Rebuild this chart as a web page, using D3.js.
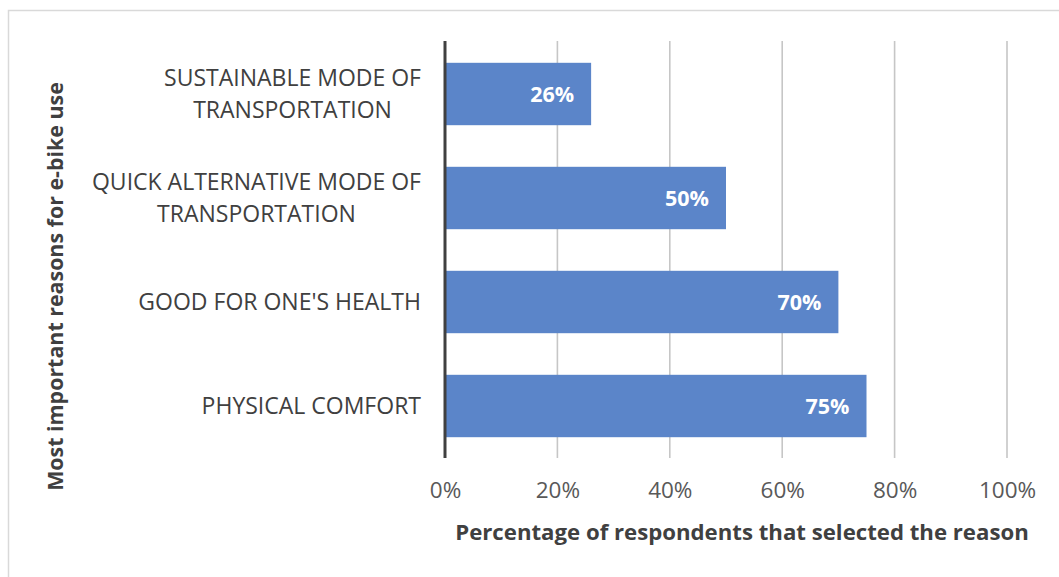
<!DOCTYPE html>
<html><head><meta charset="utf-8">
<script src="https://cdn.jsdelivr.net/npm/d3@7"></script>
<style>body{margin:0;background:#fff}text{font-family:"Open Sans",sans-serif}</style>
</head><body>
<svg id="c" width="1059" height="577"></svg>
<script>
// Data
const categories = [
  ["SUSTAINABLE MODE OF", "TRANSPORTATION"],
  ["QUICK ALTERNATIVE MODE OF", "TRANSPORTATION"],
  ["GOOD FOR ONE'S HEALTH"],
  ["PHYSICAL COMFORT"]
];
const values = [0.26, 0.50, 0.70, 0.75];
const tickValues = [0, 0.2, 0.4, 0.6, 0.8, 1.0];
const xTitle = "Percentage of respondents that selected the reason";
const yTitle = "Most important reasons for e-bike use";

const svg = d3.select("#c");
// chart frame
svg.append("rect").attr("x", 8.5).attr("y", 10.5).attr("width", 1100).attr("height", 600)
  .attr("fill", "none").attr("stroke", "#d9d9d9").attr("stroke-width", 1.5);

const x = d3.scaleLinear().domain([0, 1]).range([445, 1007]);
const ids = categories.map((c, i) => i);
const y = d3.scaleBand().domain(ids).range([42, 458]).paddingInner(0.4).paddingOuter(0.2);

// gridlines
svg.append("g").selectAll("line").data(tickValues.slice(1)).join("line")
  .attr("x1", d => x(d)).attr("x2", d => x(d)).attr("y1", 41).attr("y2", 458)
  .attr("stroke", "#c6c6c6").attr("stroke-width", 1.6);

// bars
svg.append("g").selectAll("rect").data(values).join("rect")
  .attr("x", x(0)).attr("y", (d, i) => y(i)).attr("width", d => x(d) - x(0)).attr("height", y.bandwidth())
  .attr("fill", "#5b85c9");

// bar labels
svg.append("g").selectAll("text").data(values).join("text")
  .attr("x", d => x(d) - 17).attr("y", (d, i) => y(i) + y.bandwidth() / 2 + 7.5)
  .attr("text-anchor", "end").attr("fill", "#ffffff").style("font-weight", 700).style("font-size", "21.5px")
  .text(d => d3.format(".0%")(d));

// y axis line
svg.append("line").attr("x1", x(0)).attr("x2", x(0)).attr("y1", 41).attr("y2", 458)
  .attr("stroke", "#404040").attr("stroke-width", 3);

// x axis tick labels via d3 axis
const xAxis = svg.append("g").attr("transform", "translate(0,458)")
  .call(d3.axisBottom(x).tickValues(tickValues).tickFormat(d3.format(".0%")).tickSize(0).tickPadding(0));
xAxis.select(".domain").remove();
xAxis.selectAll("text").attr("y", 40).attr("dy", null).attr("fill", "#595959")
  .style("font-size", "22.5px").style("font-family", '"Open Sans",sans-serif');

// category labels
const lineH = 32;
const cat = svg.append("g").selectAll("text").data(categories).join("text")
  .attr("text-anchor", "middle").attr("fill", "#404040").style("font-size", "23px");
cat.each(function(lines, i) {
  const t = d3.select(this);
  const cy = y(i) + y.bandwidth() / 2;
  const first = cy + 8 - (lines.length - 1) * lineH / 2;
  lines.forEach((l, j) => t.append("tspan").attr("x", 0).attr("y", first + j * lineH).text(l));
  const w = d3.max(t.selectAll("tspan").nodes(), n => n.getComputedTextLength());
  // block right edge at x=421, lines centred within block
  t.selectAll("tspan").attr("x", 421 - w / 2);
});

// axis titles
svg.append("text").attr("x", 742).attr("y", 540).attr("text-anchor", "middle")
  .attr("fill", "#404040").style("font-weight", 700).style("font-size", "22.2px").text(xTitle);
svg.append("text").attr("transform", "translate(63,286.5) rotate(-90)").attr("text-anchor", "middle")
  .attr("fill", "#404040").style("font-weight", 700).style("font-size", "21.4px").text(yTitle);
</script>
</body></html>
